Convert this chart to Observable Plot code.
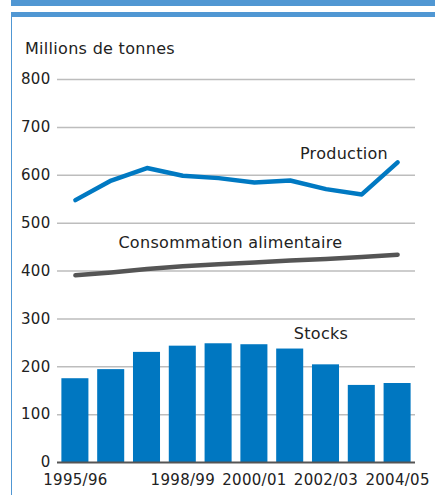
<!DOCTYPE html>
<html>
<head>
<meta charset="utf-8">
<script src="https://cdn.jsdelivr.net/npm/d3@7"></script>
<script src="https://cdn.jsdelivr.net/npm/@observablehq/plot@0.6"></script>
<style>
  html, body { margin: 0; padding: 0; background: #fff; }
  #wrap { position: relative; width: 435px; height: 495px; overflow: hidden; font-family: "DejaVu Sans", sans-serif; color: #222; }
  #band { position: absolute; left: 11px; top: 0; width: 424px; height: 6px; background: #5097d3; }
  #frame { position: absolute; left: 11px; top: 12px; width: 424px; height: 483px; border-top: 5px solid #5097d3; border-left: 1.5px solid #5097d3; box-sizing: border-box; }
  #title { position: absolute; left: 25px; top: 40px; font-size: 16px; line-height: 18px; letter-spacing: 0.3px; white-space: nowrap; z-index: 2; }
  #chart { position: absolute; left: 0; top: 0; z-index: 1; }
  #chart svg text { letter-spacing: 0.3px; }
</style>
</head>
<body>
<div id="wrap">
  <div id="band"></div>
  <div id="frame"></div>
  <div id="title">Millions de tonnes</div>
  <div id="chart"></div>
</div>
<script>
const seasons = ["1995/96","1996/97","1997/98","1998/99","1999/00","2000/01","2001/02","2002/03","2003/04","2004/05"];
const production = [548, 589, 615, 599, 594, 585, 589, 571, 560, 627];
const consommation = [391, 397, 404, 410, 414, 418, 422, 425, 429, 434];
const stocks = [175, 194, 230, 243, 248, 246, 237, 204, 161, 165];
const xTickLabels = ["1995/96","1998/99","2000/01","2002/03","2004/05"];
const yTicks = [0, 100, 200, 300, 400, 500, 600, 700, 800];
const gridValues = [100, 200, 300, 400, 500, 600, 700, 800];
const labelProduction = [{season: "2002/03", value: 645, label: "Production"}];
const labelConsommation = [{season: "2000/01", value: 459, label: "Consommation alimentaire"}];
const labelStocks = [{season: "2002/03", value: 269, label: "Stocks"}];

const rows = seasons.map((s, i) => ({season: s, production: production[i], consommation: consommation[i], stocks: stocks[i]}));
const font = "'DejaVu Sans', sans-serif";

const chart = Plot.plot({
  width: 435,
  height: 495,
  marginTop: 79,
  marginBottom: 33,
  marginLeft: 57,
  marginRight: 20,
  style: {fontFamily: font, fontSize: "15px", color: "#222", background: "transparent"},
  x: {type: "band", domain: seasons, paddingInner: 0.245, paddingOuter: 0.1225, round: false, label: null},
  y: {domain: [0, 800], label: null},
  marks: [
    Plot.ruleY(gridValues, {stroke: "#bdbdbd", strokeWidth: 1.5}),
    Plot.barY(rows, {x: "season", y: "stocks", fill: "#0077c1"}),
    Plot.ruleY([0], {stroke: "#555", strokeWidth: 2}),
    Plot.lineY(rows, {x: "season", y: "consommation", stroke: "#555", strokeWidth: 4.5, strokeLinecap: "round", strokeLinejoin: "round"}),
    Plot.lineY(rows, {x: "season", y: "production", stroke: "#0079c2", strokeWidth: 4.5, strokeLinecap: "round", strokeLinejoin: "round"}),
    Plot.text(labelProduction, {x: "season", y: "value", text: "label", dx: 18, fill: "#222", fontSize: 16}),
    Plot.text(labelConsommation, {x: "season", y: "value", text: "label", dx: -24, fill: "#222", fontSize: 16}),
    Plot.text(labelStocks, {x: "season", y: "value", text: "label", dx: -5, fill: "#222", fontSize: 16}),
    Plot.axisY(yTicks, {tickSize: 0, tickPadding: 7, fontSize: 15, fill: "#222", label: null}),
    Plot.axisX(xTickLabels, {tickSize: 0, tickPadding: 12, fontSize: 15, fill: "#222", label: null})
  ]
});
document.getElementById("chart").appendChild(chart);
</script>
</body>
</html>
